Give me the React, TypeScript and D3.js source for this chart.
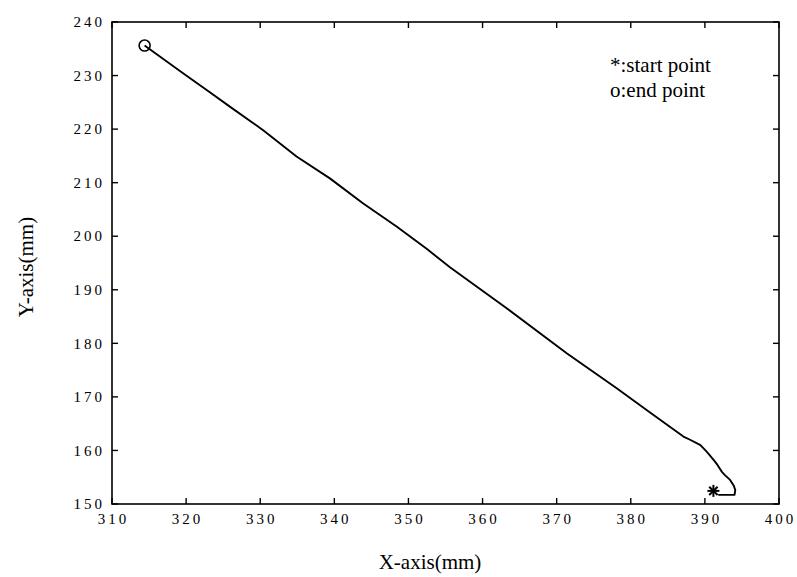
import React from 'react';
import * as d3 from 'd3';

// trajectory (mm), from the start point to the end point
const pathX = [391.8, 394.0, 394.1, 393.9, 393.4, 392.7, 392.3, 391.7, 391.2, 390.3, 389.4, 388.0, 387.1, 382.6, 378.1, 371.4, 363.3, 355.6, 352.5, 348.4, 343.9, 339.4, 334.9, 330.4, 325.9, 323.2, 319.4, 314.4];
const pathY = [151.7, 151.7, 152.6, 153.4, 154.5, 155.4, 156.0, 157.3, 158.2, 159.7, 161.0, 162.0, 162.6, 167.1, 171.6, 178.1, 186.5, 194.2, 197.6, 201.8, 206.1, 210.8, 214.9, 219.8, 224.2, 226.9, 230.6, 235.6];

const startPoint = [391.15, 152.45];
const endPoint = [314.4, 235.6];

const xTicks = [310, 320, 330, 340, 350, 360, 370, 380, 390, 400];
const yTicks = [150, 160, 170, 180, 190, 200, 210, 220, 230, 240];

const legendLines = ['*:start point', 'o:end point'];

const W = 797;
const H = 577;
const plot = { left: 112, right: 779, top: 22, bottom: 504 };
const font = '"Liberation Serif", "Times New Roman", serif';
const tickLen = 6;

export default function App() {
  const x = d3.scaleLinear().domain([310, 400]).range([plot.left, plot.right]);
  const y = d3.scaleLinear().domain([150, 240]).range([plot.bottom, plot.top]);

  const pts: [number, number][] = pathX.map((v, i) => [v, pathY[i]]);
  const line = d3.line<[number, number]>()
    .x(d => x(d[0]))
    .y(d => y(d[1]));

  const sx = x(startPoint[0]);
  const sy = y(startPoint[1]);
  const s = 6;

  return (
    <svg width={W} height={H} style={{ position: 'absolute', left: 0, top: 0, background: '#fff' }}>
      {/* frame */}
      <rect x={plot.left} y={plot.top} width={plot.right - plot.left} height={plot.bottom - plot.top}
        fill="none" stroke="#000" strokeWidth={1.6} />

      {/* ticks, inward on all four sides */}
      {xTicks.map(t => (
        <g key={'xt' + t}>
          <line x1={x(t)} x2={x(t)} y1={plot.bottom} y2={plot.bottom - tickLen} stroke="#000" strokeWidth={1.4} />
          <line x1={x(t)} x2={x(t)} y1={plot.top} y2={plot.top + tickLen} stroke="#000" strokeWidth={1.4} />
          <text x={x(t)} dx={1.5} y={524} textAnchor="middle" fontFamily={font} fontSize={15}
            letterSpacing={3} fill="#000">{t}</text>
        </g>
      ))}
      {yTicks.map(t => (
        <g key={'yt' + t}>
          <line x1={plot.left} x2={plot.left + tickLen} y1={y(t)} y2={y(t)} stroke="#000" strokeWidth={1.4} />
          <line x1={plot.right} x2={plot.right - tickLen} y1={y(t)} y2={y(t)} stroke="#000" strokeWidth={1.4} />
          <text x={plot.left - 7} y={y(t)} dy="0.35em" textAnchor="end" fontFamily={font} fontSize={15}
            letterSpacing={3} fill="#000">{t}</text>
        </g>
      ))}

      {/* axis titles */}
      <text x={430} y={569} textAnchor="middle" fontFamily={font} fontSize={21} fill="#000">X-axis(mm)</text>
      <text transform={`translate(33,267) rotate(-90)`} textAnchor="middle" fontFamily={font} fontSize={21} fill="#000">Y-axis(mm)</text>

      {/* trajectory */}
      <path d={line(pts) || ''} fill="none" stroke="#000" strokeWidth={1.9} strokeLinejoin="round" />

      {/* end point marker */}
      <circle cx={x(endPoint[0])} cy={y(endPoint[1])} r={5.5} fill="none" stroke="#000" strokeWidth={1.6} />

      {/* start point marker */}
      <g stroke="#000" strokeWidth={2}>
        <line x1={sx - s} x2={sx + s} y1={sy} y2={sy} />
        <line x1={sx} x2={sx} y1={sy - s} y2={sy + s} />
        <line x1={sx - s * 0.7} x2={sx + s * 0.7} y1={sy - s * 0.7} y2={sy + s * 0.7} />
        <line x1={sx - s * 0.7} x2={sx + s * 0.7} y1={sy + s * 0.7} y2={sy - s * 0.7} />
      </g>

      {/* legend text */}
      {legendLines.map((l, i) => (
        <text key={l} x={610} y={72 + i * 25} fontFamily={font} fontSize={21} fill="#000">{l}</text>
      ))}
    </svg>
  );
}
